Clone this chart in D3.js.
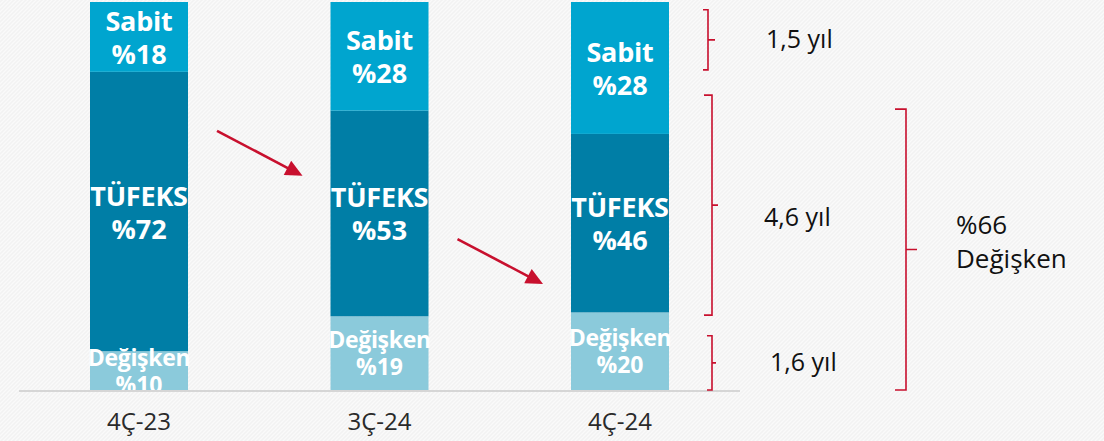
<!DOCTYPE html>
<html>
<head>
<meta charset="utf-8">
<script src="https://cdn.jsdelivr.net/npm/d3@7/dist/d3.min.js"></script>
<style>
html,body{margin:0;padding:0;background:#f4f4f4;}
svg{display:block;}
</style>
</head>
<body>
<svg id="chart" width="1104" height="441"></svg>
<script>
// ---- data ----
const categories = ["4Ç-23", "3Ç-24", "4Ç-24"];
const degisken = [10, 19, 20];
const tufeks = [72, 53, 46];
const sabit = [18, 28, 34];
const degiskenLabels = ["%10", "%19", "%20"];
const tufeksLabels = ["%72", "%53", "%46"];
const sabitLabels = ["%18", "%28", "%28"];
const seriesNames = {degisken: "Değişken", tufeks: "TÜFEKS", sabit: "Sabit"};
// brackets on the right (value space 0-100)
const bracketTop = [98, 76, 14, 72.4];
const bracketBottom = [82.5, 19.3, 0, 0];
const bracketLabels = [["1,5 yıl"], ["4,6 yıl"], ["1,6 yıl"], ["%66", "Değişken"]];
// arrows (value space)
const arrowFrom = [66.8, 38.9];
const arrowTo = [55.2, 27.3];

// ---- layout ----
const W = 1104, H = 441;
const svg = d3.select("#chart");
const defs = svg.append("defs");
const pat = defs.append("pattern").attr("id", "hatch").attr("patternUnits", "userSpaceOnUse")
  .attr("width", 4).attr("height", 4);
pat.append("rect").attr("width", 4).attr("height", 4).attr("fill", "#f2f2f2");
pat.append("path").attr("d", "M-1,1 l2,-2 M0,4 l4,-4 M3,5 l2,-2").attr("stroke", "#fafafa").attr("stroke-width", 1.4);
svg.append("rect").attr("width", W).attr("height", H).attr("fill", "url(#hatch)");

const x = d3.scalePoint().domain(categories).range([139, 620]);
const barW = 98;
const y = d3.scaleLinear().domain([0, 100]).range([390, 2]);
const baseY = 391;

const colors = {degisken: "#8bcadb", tufeks: "#007ea6", sabit: "#00a5cf"};
const labels = {degisken: degiskenLabels, tufeks: tufeksLabels, sabit: sabitLabels};

const table = categories.map((c, i) => ({cat: c, i, degisken: degisken[i], tufeks: tufeks[i], sabit: sabit[i]}));
const stack = d3.stack().keys(["degisken", "tufeks", "sabit"]);
const layers = stack(table);

defs.append("clipPath").attr("id", "clipBase").append("rect")
  .attr("x", 0).attr("y", 0).attr("width", W).attr("height", baseY);

const gBars = svg.append("g");
layers.forEach(layer => {
  gBars.selectAll(null).data(layer).enter().append("rect")
    .attr("x", d => x(d.data.cat) - barW / 2)
    .attr("width", barW)
    .attr("y", d => y(d[1]))
    .attr("height", d => y(d[0]) - y(d[1]))
    .attr("fill", colors[layer.key]);
});

const gLab = svg.append("g").attr("clip-path", "url(#clipBase)")
  .attr("font-family", "'Open Sans', sans-serif").attr("font-weight", "bold")
  .attr("fill", "#fff").attr("text-anchor", "middle");
layers.forEach(layer => {
  const small = layer.key === "degisken";
  const fs = small ? 23 : 27;
  const o1 = small ? -5 : -6, o2 = small ? 22 : 27;
  layer.forEach(d => {
    const cx = x(d.data.cat);
    const cy = (y(d[0]) + y(d[1])) / 2;
    gLab.append("text").attr("x", cx).attr("y", cy + o1).attr("font-size", fs)
      .attr("letter-spacing", small ? -0.3 : -0.2)
      .text(seriesNames[layer.key]);
    gLab.append("text").attr("x", cx).attr("y", cy + o2).attr("font-size", fs)
      .text(labels[layer.key][d.data.i]);
  });
});

// baseline
svg.append("line").attr("x1", 19).attr("x2", 740).attr("y1", baseY).attr("y2", baseY)
  .attr("stroke", "#d6d6d6").attr("stroke-width", 2);

// category labels
svg.append("g").selectAll("text").data(categories).enter().append("text")
  .attr("x", d => x(d)).attr("y", 430).attr("text-anchor", "middle")
  .attr("font-family", "'Open Sans', sans-serif").attr("font-size", 24).attr("fill", "#2a2a2a")
  .text(d => d);

// arrows
const red = "#c8102e";
arrowFrom.forEach((v, i) => {
  const x1 = x(categories[i]) + barW / 2 + 29;
  const x2 = x(categories[i + 1]) - barW / 2 - 28;
  const y1 = y(v), y2 = y(arrowTo[i]);
  const dx = x2 - x1, dy = y2 - y1, len = Math.hypot(dx, dy);
  const ux = dx / len, uy = dy / len, L = 17, hw = 8;
  const bx = x2 - ux * L, by = y2 - uy * L;
  svg.append("line").attr("x1", x1).attr("y1", y1).attr("x2", bx + ux * 2).attr("y2", by + uy * 2)
    .attr("stroke", red).attr("stroke-width", 2.6);
  svg.append("path").attr("d", `M${x2},${y2} L${bx - uy * hw},${by + ux * hw} L${bx + uy * hw},${by - ux * hw} Z`)
    .attr("fill", red);
});

// brackets
const bracketX = [708, 712, 712, 906];
const tickIn = [5, 8, 5, 11];
const tickOut = [7, 6, 4, 11];
const textX = [766, 764, 770, 956];
const textOff = [[8], [21], [8], [-16, 18]];
const textSize = [25, 25, 25, 26];
bracketTop.forEach((t, i) => {
  const yt = y(t), yb = Math.min(y(bracketBottom[i]), 392), bx = bracketX[i];
  const ym = (yt + yb) / 2;
  svg.append("path")
    .attr("d", `M${bx - tickIn[i]},${yt} H${bx} V${yb} H${bx - tickIn[i]} M${bx},${ym} H${bx + tickOut[i]}`)
    .attr("fill", "none").attr("stroke", red).attr("stroke-width", 1.6);
  bracketLabels[i].forEach((s, j) => {
    svg.append("text").attr("x", textX[i]).attr("y", ym + textOff[i][j])
      .attr("font-family", "'Open Sans', sans-serif").attr("font-size", textSize[i]).attr("fill", "#111")
      .text(s);
  });
});
</script>
</body>
</html>
